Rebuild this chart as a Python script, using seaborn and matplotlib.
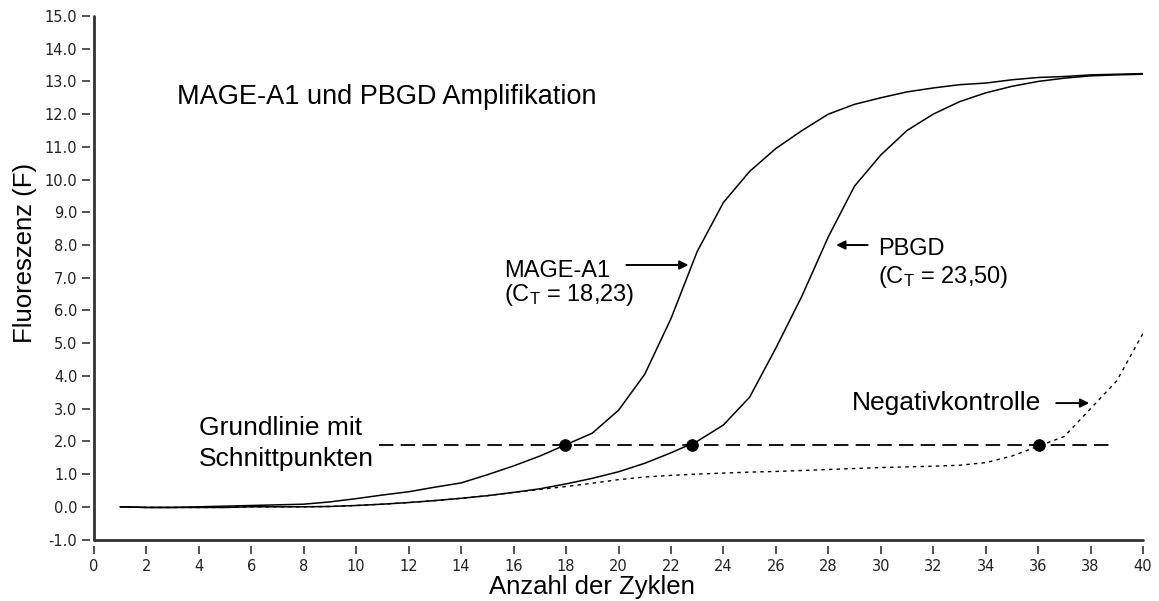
import numpy as np
import pandas as pd
import matplotlib
matplotlib.use("Agg")
import matplotlib.pyplot as plt
import seaborn as sns

# ---------------- data ----------------
cycles = list(range(1, 41))

mage_a1 = [0.00, -0.02, -0.02, 0.00, 0.02, 0.04, 0.06, 0.08, 0.15, 0.25,
           0.36, 0.46, 0.60, 0.73, 0.98, 1.25, 1.55, 1.90, 2.25, 2.95,
           4.05, 5.75, 7.80, 9.30, 10.25, 10.95, 11.50, 12.00, 12.30, 12.50,
           12.68, 12.80, 12.90, 12.95, 13.05, 13.12, 13.15, 13.20, 13.22, 13.24]

pbgd = [0.00, -0.02, -0.02, -0.02, -0.02, 0.00, 0.00, 0.00, 0.01, 0.04,
        0.08, 0.13, 0.19, 0.26, 0.34, 0.44, 0.55, 0.70, 0.87, 1.07,
        1.33, 1.65, 2.00, 2.50, 3.35, 4.85, 6.45, 8.25, 9.80, 10.75,
        11.50, 12.00, 12.38, 12.65, 12.85, 13.00, 13.10, 13.17, 13.20, 13.22]

negativ = [0.00, -0.02, -0.02, -0.02, -0.02, 0.00, 0.00, 0.00, 0.01, 0.04,
           0.08, 0.13, 0.19, 0.26, 0.34, 0.44, 0.53, 0.62, 0.72, 0.83,
           0.91, 0.96, 1.00, 1.03, 1.06, 1.08, 1.11, 1.14, 1.17, 1.20,
           1.22, 1.24, 1.27, 1.35, 1.55, 1.85, 2.15, 3.00, 3.85, 5.30]

baseline_level = 1.89
baseline_start = 10.87
baseline_end = 38.86
intersect_x = [17.96, 22.79, 36.05]
intersect_y = [1.89, 1.89, 1.89]

x_ticks = list(range(0, 41, 2))
y_ticks = list(range(-1, 16))
y_tick_labels = [f"{v:.1f}" for v in y_ticks]

title_text = "MAGE-A1 und PBGD Amplifikation"
x_label = "Anzahl der Zyklen"
y_label = "Fluoreszenz (F)"

# ---------------- style ----------------
sns.set_theme(style="white")
plt.rcParams["font.family"] = ["Liberation Sans", "DejaVu Sans"]
plt.rcParams["text.color"] = "black"
plt.rcParams["axes.labelcolor"] = "black"
plt.rcParams["mathtext.fontset"] = "custom"
plt.rcParams["mathtext.rm"] = "Liberation Sans"
plt.rcParams["mathtext.it"] = "Liberation Sans:italic"
plt.rcParams["mathtext.bf"] = "Liberation Sans:bold"

fig = plt.figure(figsize=(11.59, 6.01), dpi=100)
ax = fig.add_axes([0.0811, 0.1023, 0.9051, 0.8711])

df = pd.DataFrame({"cycle": cycles, "mage": mage_a1, "pbgd": pbgd, "neg": negativ})

sns.lineplot(data=df, x="cycle", y="neg", ax=ax, color="black", lw=1.0,
             linestyle=(0, (2.5, 3)))
sns.lineplot(data=df, x="cycle", y="pbgd", ax=ax, color="black", lw=1.1)
sns.lineplot(data=df, x="cycle", y="mage", ax=ax, color="black", lw=1.1)

ax.hlines(baseline_level, baseline_start, baseline_end, colors="black",
          lw=1.3, linestyles=(0, (8, 4)))
sns.scatterplot(x=intersect_x, y=intersect_y, ax=ax, color="black", s=70,
                edgecolor="black", zorder=5)

ax.set_xlim(0, 40)
ax.set_ylim(-1, 15)
ax.set_xticks(x_ticks)
ax.set_xticklabels([str(t) for t in x_ticks])
ax.set_yticks(y_ticks)
ax.set_yticklabels(y_tick_labels)

for side in ["top", "right"]:
    ax.spines[side].set_visible(False)
ax.spines["left"].set_position(("outward", 3))
ax.spines["bottom"].set_position(("outward", 5))
for side in ["left", "bottom"]:
    ax.spines[side].set_color("none")

ax.axvline(0, color="#333333", lw=2.0, clip_on=False, zorder=6)
ax.axhline(-1, color="#333333", lw=2.0, clip_on=False, zorder=6)

ax.tick_params(axis="both", which="both", direction="out", length=6, width=1.3,
               color="#444444", labelcolor="#222222", labelsize=10.5, pad=3,
               left=True, bottom=True)
for lab in ax.get_xticklabels() + ax.get_yticklabels():
    lab.set_family("DejaVu Sans")

ax.set_xlabel(x_label, fontsize=18.5, va="center", color="black")
ax.xaxis.set_label_coords(0.475, -0.0906)
ax.set_ylabel(y_label, fontsize=18.5, va="center", color="black")
ax.yaxis.set_label_coords(-0.066, 0.547)

# texts
tkw = dict(va="baseline", ha="left", color="black")
ax.text(3.17, 12.31, title_text, fontsize=19.5, **tkw)
ax.text(15.64, 7.02, "MAGE-A1", fontsize=17, **tkw)
ax.text(15.64, 6.29, r"(C$_{\mathrm{T}}$ = 18,23)", fontsize=17, **tkw)
ax.text(29.9, 7.70, "PBGD", fontsize=17, **tkw)
ax.text(29.9, 6.84, r"(C$_{\mathrm{T}}$ = 23,50)", fontsize=17, **tkw)
ax.text(4.0, 2.19, "Grundlinie mit", fontsize=19, **tkw)
ax.text(4.0, 1.25, "Schnittpunkten", fontsize=19, **tkw)
ax.text(28.9, 2.96, "Negativkontrolle", fontsize=19, **tkw)

arrow_kw = dict(arrowstyle="-|>", color="black", lw=1.4, mutation_scale=13,
                shrinkA=0, shrinkB=0)
ax.annotate("", xy=(22.67, 7.39), xytext=(20.3, 7.39), arrowprops=arrow_kw)
ax.annotate("", xy=(28.3, 8.0), xytext=(29.5, 8.0), arrowprops=arrow_kw)
ax.annotate("", xy=(37.95, 3.17), xytext=(36.69, 3.17), arrowprops=arrow_kw)

fig.savefig("out.png", dpi=100)
